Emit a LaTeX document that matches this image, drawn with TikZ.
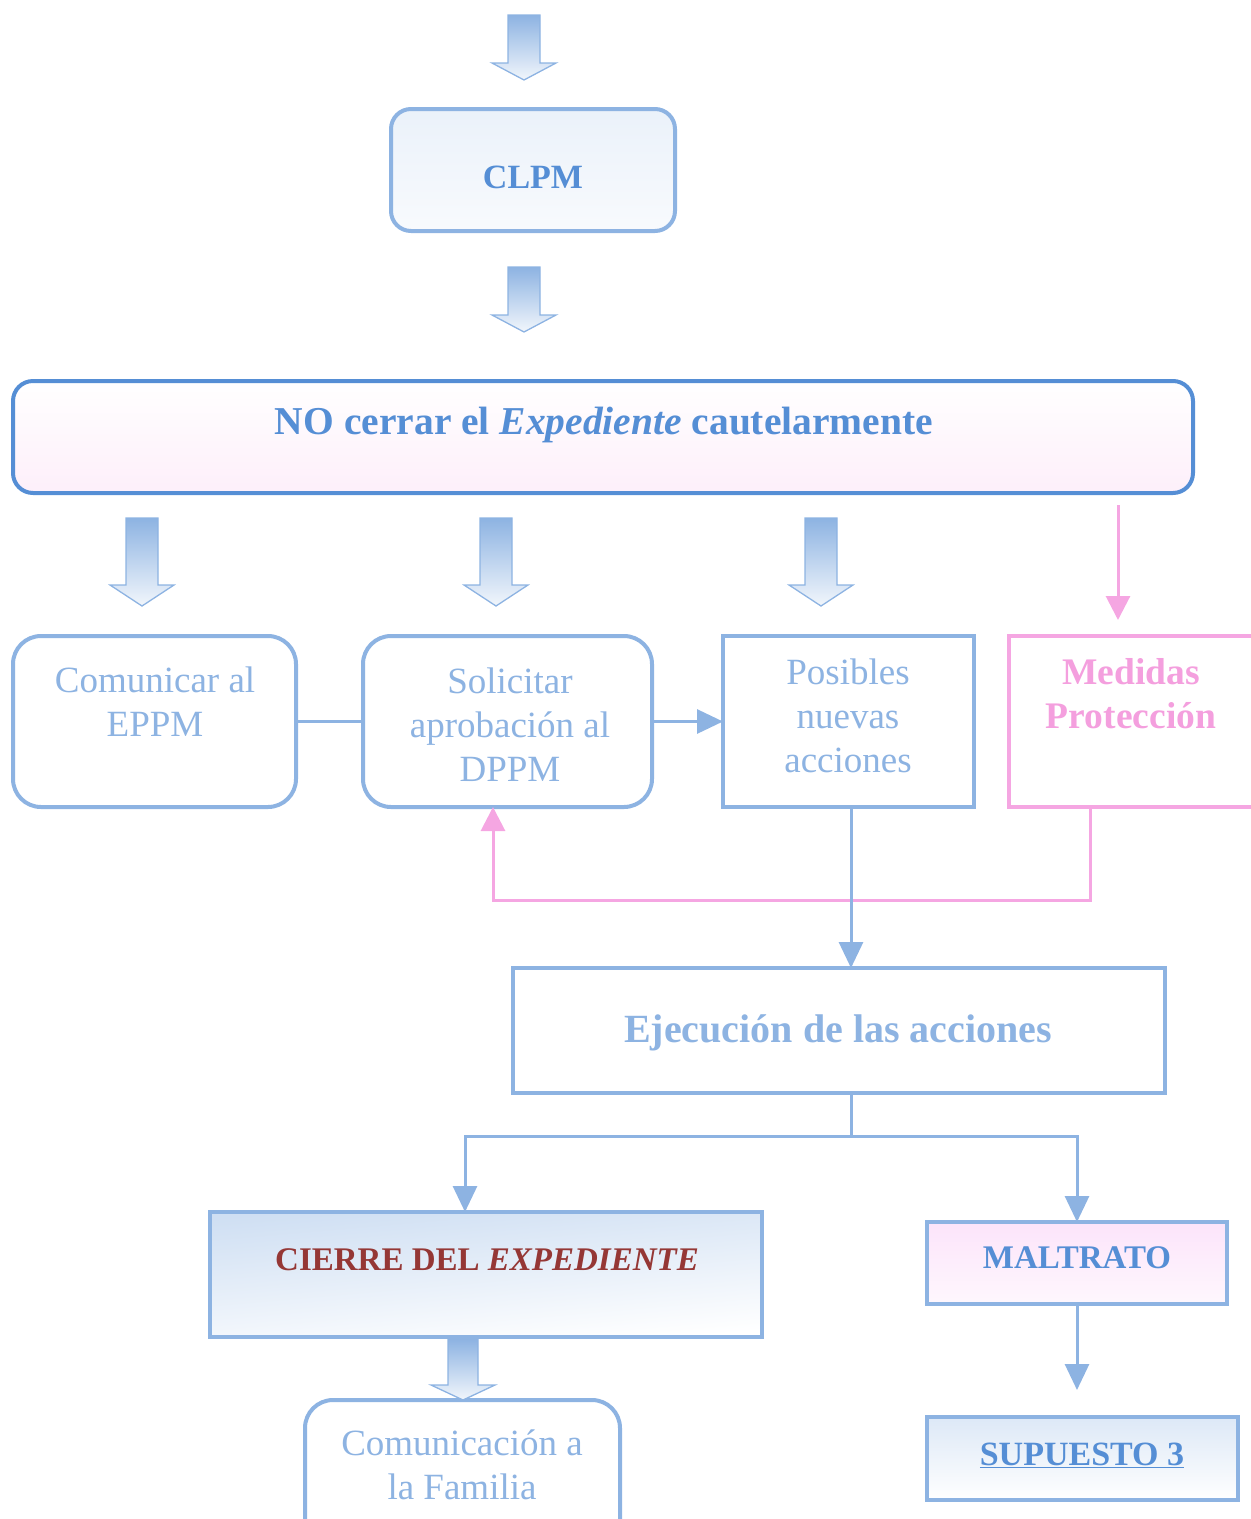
\documentclass[tikz,border=0pt]{standalone}
\usepackage{fontspec}
\setmainfont{Liberation Serif}
\usetikzlibrary{arrows.meta,calc}
\definecolor{lb}{HTML}{8DB3E2}
\definecolor{mb}{HTML}{558ED5}
\definecolor{pk}{HTML}{F5A6E2}
\definecolor{pkt}{HTML}{F49FDE}
\definecolor{dr}{HTML}{953735}
\definecolor{pl}{HTML}{FCE4FA}
\newcommand\blkarrow[5]{% x, ytop, ybase, ytip, shaft half width
  \path[draw=lb,line width=1.3pt,top color=lb,bottom color=lb!12]
    (#1-#5,#2) -- (#1+#5,#2) -- (#1+#5,#3) -- (#1+32,#3) -- (#1,#4)
    -- (#1-32,#3) -- (#1-#5,#3) -- cycle;}
\begin{document}
\begin{tikzpicture}[x=1pt,y=-1pt,
  every node/.style={inner sep=0pt,outer sep=0pt},
  rbox/.style={draw=lb,line width=4pt,rounded corners=28pt,fill=white},
  sbox/.style={draw=lb,line width=4pt,fill=white},
  txt/.style={font=\fontsize{37}{44}\selectfont,text=lb,align=center},
  btxt/.style={font=\fontsize{37}{44}\selectfont\bfseries,text=mb,align=center},
  conn/.style={draw=lb,line width=3pt},
  arr/.style={conn,-{Triangle[length=26pt,width=24pt]}},
  parr/.style={draw=pk,line width=3pt,-{Triangle[length=24pt,width=24pt]}},
]
\useasboundingbox (0,0) rectangle (1251,1519);
\clip (0,0) rectangle (1251,1519);

% block arrows
\blkarrow{524}{15}{63}{80}{16}
\blkarrow{524}{267}{315}{332}{16}
\blkarrow{142}{518}{585}{606}{16}
\blkarrow{496}{518}{585}{606}{16}
\blkarrow{821}{518}{585}{606}{16}

% CLPM
\node[draw=lb,line width=4pt,rounded corners=20pt,top color=lb!18,bottom color=lb!6,
  minimum width=284pt,minimum height=122pt] (clpm) at (533,170) {};
\node[btxt,font=\fontsize{34}{40}\selectfont\bfseries] (clpmt) at (533,177) {CLPM};

% NO cerrar
\node[draw=mb,line width=4pt,rounded corners=20pt,top color=white,bottom color=pk!18,
  minimum width=1180pt,minimum height=112pt] (no) at (603,437) {};
\node[btxt,font=\fontsize{39.5}{46}\selectfont\bfseries] (not) at (604,425) {NO cerrar el \textit{Expediente} cautelarmente};

% second row
\node[rbox,minimum width=283pt,minimum height=171pt] (comm) at (154.5,721.5) {};
\node[txt] (commt) at (155,702) {Comunicar al\\EPPM};
\node[rbox,minimum width=289pt,minimum height=171pt] (sol) at (507.5,721.5) {};
\node[txt] (solt) at (510,725) {Solicitar\\aprobación al\\DPPM};
\node[sbox,minimum width=251pt,minimum height=171pt] (pos) at (848.5,721.5) {};
\node[txt] (post) at (848,716) {Posibles\\nuevas\\acciones};
\node[draw=pk,line width=4pt,fill=white,minimum width=253pt,minimum height=171pt] (med) at (1135.5,721.5) {};
\node[txt,font=\fontsize{37.5}{44}\selectfont\bfseries,text=pkt] (medt) at (1131,694) {Medidas\\Protección};

% pink top arrow
\coordinate (p1) at (1118,505);
\coordinate (p2) at (1118,620);
\draw[parr] (p1) -- (p2);

% Ejecución
\node[sbox,minimum width=652pt,minimum height=125pt] (ejec) at (839,1030.5) {};
\node[btxt,text=lb,font=\fontsize{40}{46}\selectfont\bfseries] (eject) at (838,1033) {Ejecución de las acciones};

% pink feedback line
\draw[parr] ([xshift=-45.5pt]med.south) -- ++(0,93) -| ([xshift=-14.5pt]sol.south);

% connectors
\draw[conn] (comm.east) -- (sol.west);
\draw[arr] (sol.east) -- (pos.west);
\draw[arr] ([xshift=2.5pt]pos.south) -- ([xshift=2.5pt]pos.south |- ejec.north);

% lower part
\node[draw=lb,line width=4pt,top color=lb!42,bottom color=white,shading angle=5,
  minimum width=552pt,minimum height=125pt] (cierre) at (486,1274.5) {};
\node[font=\fontsize{33}{40}\selectfont\bfseries,text=dr] (cierret) at (487,1260) {CIERRE DEL \textit{EXPEDIENTE}};
\node[draw=lb,line width=4pt,top color=pl,bottom color=pl!30,
  minimum width=300pt,minimum height=82pt] (malt) at (1077,1263) {};
\node[btxt,font=\fontsize{33}{40}\selectfont\bfseries] (maltt) at (1077,1258) {MALTRATO};
\node[draw=lb,line width=4pt,top color=lb!30,bottom color=white,
  minimum width=311pt,minimum height=83pt] (sup) at (1082.5,1458.5) {};
\node[btxt,font=\fontsize{34}{40}\selectfont\bfseries] (supt) at (1082,1455) {\underline{SUPUESTO 3}};
\node[rbox,minimum width=315pt,minimum height=171pt] (fam) at (462.5,1485.5) {};
\node[txt] (famt) at (462,1465) {Comunicación a\\la Familia};

\coordinate (split) at ($([xshift=2.5pt]pos.south |- ejec.south)+(0,43)$);
\draw[conn] ([xshift=2.5pt]pos.south |- ejec.south) -- (split);
\draw[arr] (split) -| ([xshift=-21pt]cierre.north);
\draw[arr] (split) -| (malt.north);
\coordinate (mend) at (1077,1390);
\draw[arr] (malt.south) -- (mend);

\blkarrow{463}{1339}{1385}{1400}{15}
\end{tikzpicture}
\end{document}
